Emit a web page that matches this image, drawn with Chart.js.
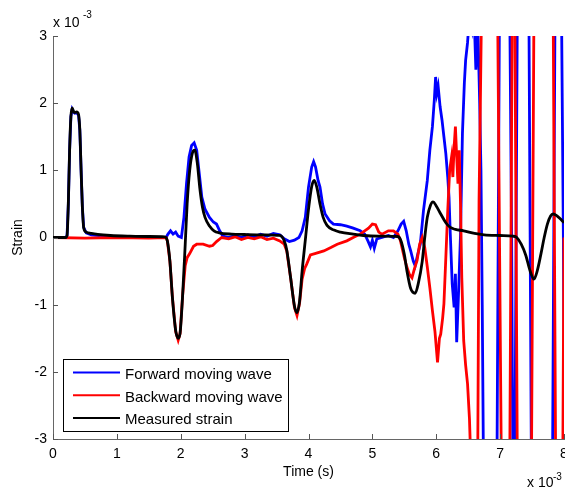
<!DOCTYPE html>
<html>
<head>
<meta charset="utf-8">
<script src="https://cdn.jsdelivr.net/npm/chart.js@4.4.0/dist/chart.umd.min.js"></script>
<style>
  html, body { margin: 0; padding: 0; background: #fff; }
  canvas { display: block; }
</style>
</head>
<body>
<canvas id="c" width="565" height="491"></canvas>
<script>
// Units: time in 10^-3 s, strain in 10^-3 (as on the axes' "x 10^-3" multipliers)
const xTickValues = [0, 1, 2, 3, 4, 5, 6, 7, 8];
const yTickValues = [-3, -2, -1, 0, 1, 2, 3];
const seriesNames = ['Forward moving wave', 'Backward moving wave', 'Measured strain'];
const seriesColors = ['#0000ff', '#ff0000', '#000000'];

const forwardT = [0,0.20,0.22,0.24,0.26,0.28,0.30,0.32,0.34,0.37,0.40,0.42,0.44,0.46,0.48,0.52,0.60,0.80,1.20,1.60,1.77,1.80,1.84,1.88,1.92,1.96,2.01,2.05,2.09,2.13,2.17,2.21,2.25,2.29,2.33,2.38,2.45,2.51,2.56,2.61,2.66,2.75,2.85,2.95,3.05,3.15,3.25,3.35,3.45,3.55,3.62,3.70,3.78,3.85,3.90,3.95,4.00,4.05,4.08,4.11,4.15,4.18,4.22,4.26,4.33,4.39,4.50,4.60,4.70,4.81,4.88,4.93,4.97,5.00,5.03,5.07,5.15,5.25,5.33,5.40,5.45,5.49,5.53,5.57,5.60,5.64,5.67,5.71,5.75,5.80,5.86,5.90,5.94,5.97,5.99,6.01,6.03,6.06,6.09,6.12,6.15,6.18,6.20,6.22,6.25,6.28,6.30,6.32,6.35,6.38,6.41,6.44,6.46,6.49,6.52,6.56,6.59,6.62,6.65,6.68,6.70,6.72,6.74,6.95,6.97,6.99,7.15,7.18,7.20,7.23,7.25,7.27,7.45,7.47,7.49,7.82,7.84,7.86,7.96,7.99,8.01];
const forwardV = [0,0,0.03,0.5,1.3,1.8,1.91,1.87,1.85,1.86,1.82,1.6,1.0,0.45,0.15,0.07,0.04,0.02,0.01,0.0,0.0,0.05,0.1,0.05,0.08,0.02,0.0,0.3,0.8,1.2,1.37,1.41,1.3,0.95,0.6,0.42,0.3,0.23,0.2,0.1,0.02,0.0,0.03,0.0,0.04,0.01,0.05,0.02,0.06,0.04,-0.02,-0.06,-0.04,0.0,0.1,0.3,0.75,1.05,1.13,1.05,0.85,0.75,0.5,0.35,0.25,0.2,0.19,0.17,0.14,0.1,0.05,-0.05,-0.14,-0.04,-0.16,-0.02,0.0,0.03,0.0,0.1,0.2,0.24,0.1,-0.1,-0.2,-0.35,-0.42,-0.25,-0.1,0.4,0.85,1.3,1.65,2.05,2.39,2.15,2.25,1.95,1.75,1.5,1.25,0.9,0.6,0.05,-0.69,-1.04,-0.54,-1.56,-0.8,0.05,1.55,2.3,2.64,2.9,3.3,3.1,3.4,2.5,3.2,2.0,1.0,-1.0,-3.5,-3.5,0,3.5,3.5,0,-3.5,-3.5,0,3.5,3.5,0,-3.5,-3.5,0,3.5,3.5,0,-3.5];

const backwardT = [0,0.50,1.00,1.50,1.77,1.79,1.83,1.87,1.92,1.96,1.99,2.03,2.07,2.10,2.14,2.20,2.25,2.35,2.45,2.50,2.56,2.64,2.75,2.85,2.95,3.05,3.15,3.25,3.35,3.45,3.55,3.62,3.66,3.72,3.78,3.82,3.86,3.90,3.94,3.97,4.03,4.10,4.24,4.35,4.45,4.60,4.70,4.81,4.88,4.94,5.00,5.05,5.10,5.15,5.25,5.33,5.40,5.44,5.50,5.54,5.58,5.62,5.66,5.70,5.74,5.78,5.82,5.86,5.90,5.94,5.98,6.02,6.05,6.07,6.10,6.12,6.15,6.18,6.21,6.24,6.26,6.28,6.30,6.32,6.34,6.36,6.38,6.40,6.43,6.46,6.49,6.52,6.54,6.62,6.65,6.67,6.69,6.71,6.96,6.99,7.02,7.15,7.17,7.19,7.23,7.25,7.27,7.49,7.51,7.53,7.83,7.85,7.87,7.98,8.00,8.02];
const backwardV = [0,-0.01,0.0,-0.01,0.0,-0.05,-0.35,-0.9,-1.4,-1.53,-1.43,-0.85,-0.42,-0.3,-0.24,-0.13,-0.1,-0.1,-0.13,-0.12,-0.06,0.0,-0.02,0.01,-0.03,0.0,-0.02,0.01,-0.03,-0.01,-0.05,-0.1,-0.2,-0.6,-1.04,-1.16,-0.98,-0.62,-0.46,-0.4,-0.26,-0.24,-0.2,-0.15,-0.1,-0.05,0.0,0.05,0.1,0.14,0.2,0.19,0.08,0.05,0.1,0.1,0.05,-0.05,-0.3,-0.44,-0.55,-0.6,-0.46,-0.34,-0.1,0.0,-0.15,-0.44,-0.75,-1.09,-1.4,-1.86,-1.5,-1.44,-1.2,-0.99,-0.3,0.4,1.0,1.2,0.9,1.35,1.65,1.2,0.8,1.3,0.5,-0.6,-1.54,-1.9,-2.18,-2.7,-3.3,-3.5,-3.2,0.55,1.95,3.5,3.5,0,-3.5,-3.5,0,3.5,3.5,0,-3.5,-3.5,0,3.5,3.5,0,-3.5,-3.5,0,3.5];

const measuredT = [0,0.20,0.22,0.24,0.26,0.28,0.30,0.32,0.34,0.37,0.40,0.42,0.44,0.46,0.48,0.52,0.60,0.70,0.90,1.20,1.50,1.75,1.79,1.83,1.87,1.92,1.96,1.99,2.03,2.07,2.10,2.14,2.18,2.22,2.26,2.30,2.34,2.38,2.45,2.52,2.60,2.80,3.00,3.30,3.55,3.62,3.66,3.72,3.78,3.82,3.86,3.90,3.95,4.00,4.05,4.09,4.13,4.18,4.23,4.29,4.40,4.50,4.70,4.86,5.10,5.39,5.44,5.50,5.54,5.60,5.67,5.72,5.78,5.82,5.86,5.91,5.95,6.00,6.07,6.15,6.22,6.30,6.43,6.60,6.75,7.00,7.20,7.26,7.33,7.40,7.47,7.53,7.58,7.64,7.69,7.74,7.79,7.83,7.88,7.95,8.00];
const measuredV = [0,0,0.03,0.5,1.3,1.8,1.93,1.88,1.86,1.87,1.83,1.6,1.0,0.45,0.15,0.08,0.06,0.045,0.03,0.02,0.015,0.01,-0.05,-0.35,-0.9,-1.38,-1.5,-1.42,-0.85,-0.1,0.5,1.0,1.25,1.3,1.1,0.72,0.45,0.3,0.17,0.1,0.07,0.05,0.045,0.04,0.03,-0.05,-0.19,-0.6,-1.02,-1.12,-0.95,-0.5,-0.04,0.42,0.76,0.85,0.75,0.5,0.3,0.18,0.11,0.08,0.05,0.03,0.02,0.015,-0.03,-0.25,-0.49,-0.76,-0.83,-0.68,-0.36,0.0,0.3,0.48,0.53,0.47,0.35,0.22,0.15,0.12,0.1,0.06,0.04,0.03,0.02,0.0,-0.1,-0.26,-0.5,-0.62,-0.5,-0.24,0.0,0.2,0.32,0.35,0.33,0.27,0.22];

const FONT = '"Liberation Sans", Arial, Helvetica, sans-serif';
const toPts = (t, v) => t.map((tt, i) => ({ x: tt, y: v[i] }));

const seriesData = [toPts(forwardT, forwardV), toPts(backwardT, backwardV), toPts(measuredT, measuredV)];
const drawOrder = [3, 2, 1]; // measured on top, then backward, then forward

const datasets = seriesNames.map((name, i) => ({
  label: name,
  data: seriesData[i],
  borderColor: seriesColors[i],
  backgroundColor: seriesColors[i],
  borderWidth: 2.8,
  pointRadius: 0,
  pointHoverRadius: 0,
  tension: 0,
  cubicInterpolationMode: i === 2 ? 'monotone' : 'default',
  fill: false,
  clip: 0,
  order: drawOrder[i]
}));

const decor = {
  id: 'decor',
  afterDraw(chart) {
    const { ctx, chartArea: a, scales: { x, y } } = chart;
    ctx.save();
    // inward tick marks
    ctx.strokeStyle = '#555';
    ctx.lineWidth = 1;
    ctx.beginPath();
    xTickValues.forEach(v => {
      const px = Math.round(x.getPixelForValue(v)) + 0.5;
      ctx.moveTo(px, a.bottom); ctx.lineTo(px, a.bottom - 5);
    });
    yTickValues.forEach(v => {
      const py = Math.round(y.getPixelForValue(v)) + 0.5;
      ctx.moveTo(a.left, py); ctx.lineTo(a.left + 5, py);
    });
    ctx.stroke();

    // exponent multipliers
    ctx.fillStyle = '#000';
    ctx.textBaseline = 'alphabetic';
    ctx.textAlign = 'left';
    ctx.font = '14px ' + FONT;
    ctx.fillText('x 10', a.left, 27);
    ctx.fillText('x 10', 527, 487);
    ctx.font = '10px ' + FONT;
    ctx.fillText('-3', a.left + 30, 17.5);
    ctx.fillText('-3', 553, 479.5);

    // legend box
    const bx = 63.5, by = 359.5, bw = 225, bh = 72;
    ctx.fillStyle = '#fff';
    ctx.fillRect(bx, by, bw, bh);
    ctx.strokeStyle = '#000';
    ctx.lineWidth = 1;
    ctx.strokeRect(bx, by, bw, bh);
    ctx.font = '15px ' + FONT;
    chart.data.datasets.forEach((ds, i) => {
      const ly = 372.5 + i * 22.7;
      ctx.strokeStyle = ds.borderColor;
      ctx.lineWidth = 2;
      ctx.beginPath();
      ctx.moveTo(73, ly); ctx.lineTo(120, ly);
      ctx.stroke();
      ctx.fillStyle = '#000';
      ctx.fillText(ds.label, 125, ly + 6.5);
    });
    ctx.restore();
  }
};

new Chart(document.getElementById('c'), {
  type: 'line',
  data: { datasets },
  options: {
    responsive: false,
    devicePixelRatio: 1,
    animation: false,
    events: [],
    layout: { padding: { top: 36, right: 1, left: 0, bottom: 0 } },
    plugins: { legend: { display: false }, tooltip: { enabled: false } },
    scales: {
      x: {
        type: 'linear', min: 0, max: 8,
        ticks: { stepSize: 1, color: '#000', font: { family: FONT, size: 14 }, padding: 7, maxRotation: 0, autoSkip: false },
        grid: { display: true, drawOnChartArea: false, drawTicks: false },
        border: { display: true, color: '#666', width: 1 },
        title: { display: true, text: 'Time (s)', color: '#000', font: { family: FONT, size: 14 }, padding: { top: 0, bottom: 10 } },
        afterFit(s) { s.height = 52; s.paddingLeft = 0; s.paddingRight = 0; }
      },
      y: {
        type: 'linear', min: -3, max: 3,
        ticks: { stepSize: 1, color: '#000', font: { family: FONT, size: 14 }, padding: 6 },
        grid: { display: true, drawOnChartArea: false, drawTicks: false },
        border: { display: true, color: '#666', width: 1 },
        title: { display: true, text: 'Strain', color: '#000', font: { family: FONT, size: 14 }, padding: { top: 10, bottom: 0 } },
        afterFit(s) { s.width = 53; s.paddingTop = 0; s.paddingBottom = 0; }
      }
    }
  },
  plugins: [decor]
});
</script>
</body>
</html>
